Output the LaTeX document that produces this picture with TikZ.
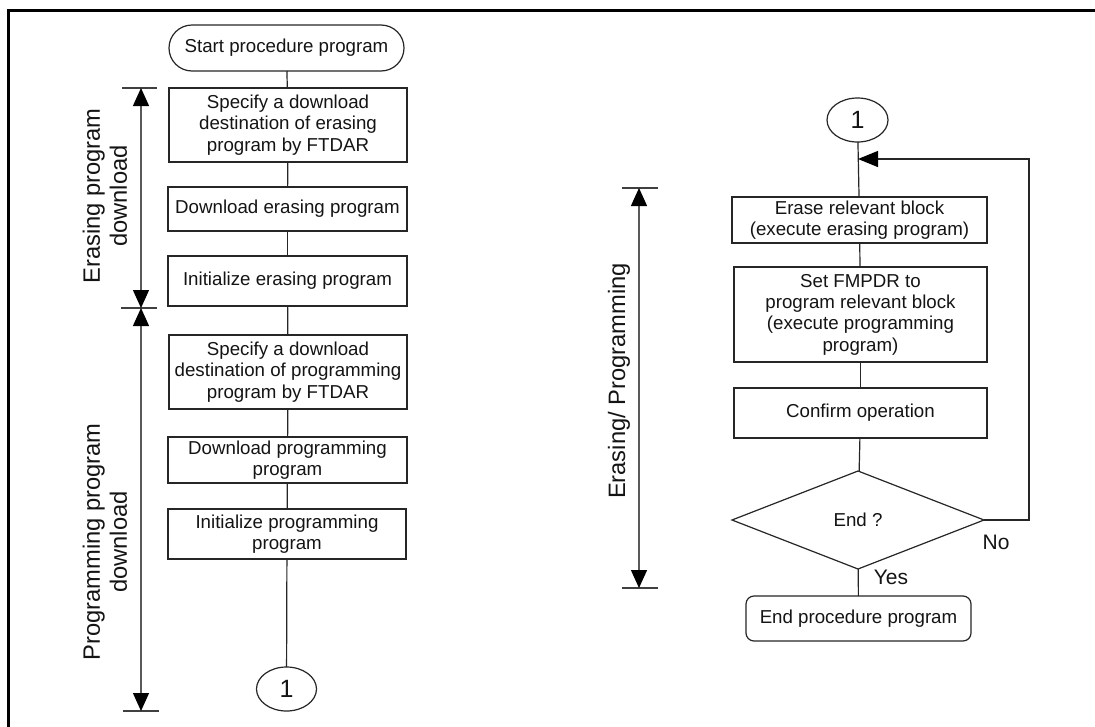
\documentclass[tikz,border=0pt]{standalone}
\usepackage{fontspec}
\setmainfont{Liberation Sans}
\usetikzlibrary{arrows.meta,shapes.geometric}
\begin{document}
\begin{tikzpicture}[x=1pt,y=-1pt,
  every node/.style={inner sep=0pt, outer sep=0pt},
  boxtext/.style={font=\fontsize{18.7}{21.3}\selectfont, align=center, text=black!92},
  procbox/.style={boxtext, draw=black!85, line width=1.2pt, rectangle},
  termbox/.style={boxtext, draw=black!85, line width=1.2pt, rectangle},
  conn/.style={boxtext, draw=black!85, line width=1.2pt, ellipse, font=\fontsize{25}{28}\selectfont},
  flow/.style={draw=black!85, line width=1.2pt},
  dimline/.style={draw=black!65, line width=1.3pt, {Triangle[length=18pt,width=16pt,color=black]}-{Triangle[length=18pt,width=16pt,color=black]}},
  tick/.style={draw=black!75, line width=1.2pt},
  sidelabel/.style={rotate=90, align=center, text=black!92, font=\fontsize{23.7}{27}\selectfont},
  answer/.style={text=black!92, font=\fontsize{21}{24}\selectfont}
]
\useasboundingbox (0,0) rectangle (1095,726);
\fill[white] (0,0) rectangle (1095,726);
% frame
\draw[line width=3pt] (1095,10) -- (8,10) -- (8,727);

% ---- left column
\node[termbox, minimum width=235pt, minimum height=46pt, rounded corners=23pt] (start) at (286.5,48) {Start procedure program};
\node[procbox, minimum width=238pt, minimum height=74pt] (b1) at (288,125) {Specify a download\\destination of erasing\\program by FTDAR};
\node[procbox, minimum width=239pt, minimum height=44pt] (b2) at (287.5,209) {Download erasing program};
\node[procbox, minimum width=239pt, minimum height=50pt] (b3) at (287.5,281) {Initialize erasing program};
\node[procbox, minimum width=238pt, minimum height=74pt] (b4) at (288,372) {Specify a download\\destination of programming\\program by FTDAR};
\node[procbox, minimum width=239pt, minimum height=46pt] (b5) at (287.5,460) {Download programming\\program};
\node[procbox, minimum width=238pt, minimum height=50pt] (b6) at (287,534) {Initialize programming\\program};
\node[conn, minimum width=60pt, minimum height=44pt] (c1) at (286.5,689) {1};

\draw[flow] (start) -- (b1);
\draw[flow] (b1) -- (b2);
\draw[flow] (b2) -- (b3);
\draw[flow] (b3) -- (b4);
\draw[flow] (b4) -- (b5);
\draw[flow] (b5) -- (b6);
\draw[flow] (b6) -- (c1);

% left dimension lines
\coordinate (la) at (141,88);
\coordinate (lb) at (141,308);
\coordinate (lc) at (141,711);
\coordinate (lat1) at (122,88);  \coordinate (lat2) at (157,88);
\coordinate (lbt1) at (121,308); \coordinate (lbt2) at (157,308);
\coordinate (lct1) at (123,711); \coordinate (lct2) at (159,711);
\draw[tick] (lat1) -- (lat2);
\draw[tick] (lbt1) -- (lbt2);
\draw[tick] (lct1) -- (lct2);
\draw[dimline] (la) -- (lb);
\draw[dimline] (lb) -- (lc);
\node[sidelabel] (l1) at (105,196) {Erasing program\\download};
\node[sidelabel] (l2) at (105,542) {Programming program\\download};

% ---- right column
\node[conn, minimum width=61pt, minimum height=44pt] (c2) at (857.5,120) {1};
\node[procbox, minimum width=255pt, minimum height=46pt] (r1) at (859.5,220) {Erase relevant block\\(execute erasing program)};
\node[procbox, minimum width=253pt, minimum height=95pt] (r2) at (860.5,314.5) {Set FMPDR to\\program relevant block\\(execute programming\\program)};
\node[procbox, minimum width=253pt, minimum height=50pt] (r3) at (860.5,413) {Confirm operation};
\node[boxtext, draw=black!85, line width=1.2pt, diamond, aspect=2.57, minimum width=252pt, minimum height=98pt] (dia) at (858,520) {End ?};
\node[termbox, minimum width=225pt, minimum height=45pt, rounded corners=8pt] (end) at (858.5,618.5) {End procedure program};

\draw[flow] (c2) -- (r1);
\draw[flow] (r1) -- (r2);
\draw[flow] (r2) -- (r3);
\draw[flow] (r3) -- (dia);
\draw[flow] (dia) -- (end);
\coordinate (fbc) at (1029,159);
\coordinate (jn) at (858,159);
\draw[flow, -{Triangle[length=20pt,width=16pt,color=black]}] (dia.east) -| (fbc) -- (jn);
\node[answer] (no) at (996,542) {No};
\node[answer] (yes) at (891,577) {Yes};

% right dimension line
\coordinate (ra) at (639,188);
\coordinate (rb) at (639,588);
\coordinate (rat1) at (622,188); \coordinate (rat2) at (658,188);
\coordinate (rbt1) at (622,588); \coordinate (rbt2) at (658,588);
\draw[tick] (rat1) -- (rat2);
\draw[tick] (rbt1) -- (rbt2);
\draw[dimline] (ra) -- (rb);
\node[sidelabel] (l3) at (619,381) {Erasing/ Programming};
\end{tikzpicture}
\end{document}
